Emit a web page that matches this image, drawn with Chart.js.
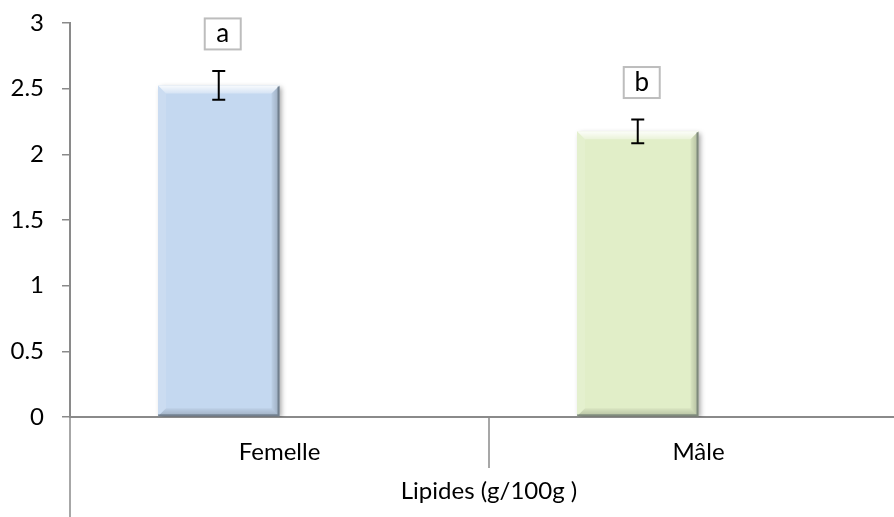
<!DOCTYPE html>
<html>
<head>
<meta charset="utf-8">
<script src="https://cdn.jsdelivr.net/npm/chart.js@4/dist/chart.umd.min.js"></script>
<style>
  html, body { margin: 0; padding: 0; background: #ffffff; overflow: hidden; }
  #wrap { width: 908px; height: 517px; }
</style>
</head>
<body>
<div id="wrap"><canvas id="chart" width="908" height="517"></canvas></div>
<script>
// Lipid content by sex (g/100g), mean ± error, with significance letters
const categories = ['Femelle', 'Mâle'];
const lipidMeans = [2.525, 2.175];
const lipidErrors = [0.11, 0.09];
const groupLetters = ['a', 'b'];
const barColors = ['#c4d8f0', '#e1eec8'];
const axisTitle = 'Lipides (g/100g )';

const FONT = 'Lato, "Open Sans", sans-serif';
const FONT_SIZE = 24;
const AXIS_GREY = '#8a8a8a';

// Soft drop shadow under the bars
const barShadow = {
  id: 'barShadow',
  beforeDatasetDraw(chart, args) {
    if (args.index !== 0) return;
    const ctx = chart.ctx;
    ctx.save();
    ctx.shadowColor = 'rgba(0,0,0,0.35)';
    ctx.shadowBlur = 5;
    ctx.shadowOffsetX = 2;
    ctx.shadowOffsetY = 2;
  },
  afterDatasetDraw(chart, args) {
    if (args.index !== 0) return;
    chart.ctx.restore();
  }
};

// Bevelled edges on each bar
const barBevel = {
  id: 'barBevel',
  afterDatasetsDraw(chart) {
    const ctx = chart.ctx;
    const meta = chart.getDatasetMeta(0);
    const b = 8;
    meta.data.forEach((el) => {
      const p = el.getProps(['x', 'y', 'base', 'width'], true);
      const x0 = p.x - p.width / 2, x1 = p.x + p.width / 2;
      const y0 = p.y, y1 = p.base;
      ctx.save();
      // top facet
      let g = ctx.createLinearGradient(0, y0, 0, y0 + b);
      g.addColorStop(0, 'rgba(255,255,255,0.9)');
      g.addColorStop(1, 'rgba(255,255,255,0.3)');
      ctx.fillStyle = g;
      ctx.beginPath();
      ctx.moveTo(x0, y0); ctx.lineTo(x1, y0); ctx.lineTo(x1 - b, y0 + b); ctx.lineTo(x0 + b, y0 + b);
      ctx.closePath(); ctx.fill();
      // left facet
      ctx.fillStyle = 'rgba(255,255,255,0.12)';
      ctx.beginPath();
      ctx.moveTo(x0, y0); ctx.lineTo(x0 + b, y0 + b); ctx.lineTo(x0 + b, y1 - b); ctx.lineTo(x0, y1);
      ctx.closePath(); ctx.fill();
      // right facet
      g = ctx.createLinearGradient(x1 - b, 0, x1, 0);
      g.addColorStop(0, 'rgba(0,0,0,0.04)');
      g.addColorStop(1, 'rgba(0,0,0,0.22)');
      ctx.fillStyle = g;
      ctx.beginPath();
      ctx.moveTo(x1, y0); ctx.lineTo(x1, y1); ctx.lineTo(x1 - b, y1 - b); ctx.lineTo(x1 - b, y0 + b);
      ctx.closePath(); ctx.fill();
      // bottom facet
      g = ctx.createLinearGradient(0, y1 - b, 0, y1);
      g.addColorStop(0, 'rgba(0,0,0,0.04)');
      g.addColorStop(1, 'rgba(0,0,0,0.2)');
      ctx.fillStyle = g;
      ctx.beginPath();
      ctx.moveTo(x0, y1); ctx.lineTo(x0 + b, y1 - b); ctx.lineTo(x1 - b, y1 - b); ctx.lineTo(x1, y1);
      ctx.closePath(); ctx.fill();
      // darker outer edge on right and bottom
      ctx.strokeStyle = 'rgba(60,70,80,0.45)';
      ctx.lineWidth = 2;
      ctx.beginPath();
      ctx.moveTo(x1 - 1, y0 + 1); ctx.lineTo(x1 - 1, y1 - 1); ctx.lineTo(x0, y1 - 1);
      ctx.stroke();
      ctx.restore();
    });
  }
};

// Error bars and significance letters in boxes
const errorAndLetters = {
  id: 'errorAndLetters',
  afterDatasetsDraw(chart) {
    const ctx = chart.ctx;
    const y = chart.scales.y;
    const meta = chart.getDatasetMeta(0);
    meta.data.forEach((el, i) => {
      const cx = el.x;
      const top = y.getPixelForValue(lipidMeans[i] + lipidErrors[i]);
      const bot = y.getPixelForValue(lipidMeans[i] - lipidErrors[i]);
      ctx.save();
      ctx.strokeStyle = '#000000';
      ctx.lineWidth = 2;
      ctx.beginPath();
      ctx.moveTo(cx, top); ctx.lineTo(cx, bot);
      ctx.moveTo(cx - 6.5, top); ctx.lineTo(cx + 6.5, top);
      ctx.moveTo(cx - 6.5, bot); ctx.lineTo(cx + 6.5, bot);
      ctx.stroke();

      const bx = cx + 4, by = top - 37;
      const w = 36, h = 31;
      ctx.fillStyle = '#ffffff';
      ctx.fillRect(bx - w / 2, by - h / 2, w, h);
      ctx.strokeStyle = '#bdbdbd';
      ctx.lineWidth = 2;
      ctx.strokeRect(bx - w / 2, by - h / 2, w, h);
      ctx.fillStyle = '#000000';
      ctx.font = '26px ' + FONT;
      ctx.textAlign = 'center';
      ctx.textBaseline = 'middle';
      ctx.fillText(groupLetters[i], bx, by);
      ctx.restore();
    });
  }
};

// Category axis extensions: outer axis line and category divider
const axisLines = {
  id: 'axisLines',
  afterDraw(chart) {
    const ctx = chart.ctx;
    const x = chart.scales.x;
    const area = chart.chartArea;
    ctx.save();
    ctx.strokeStyle = AXIS_GREY;
    ctx.lineWidth = 1.5;
    ctx.beginPath();
    ctx.moveTo(area.left, area.bottom);
    ctx.lineTo(area.left, chart.height);
    for (let i = 1; i < categories.length; i++) {
      const mid = (x.getPixelForValue(i - 1) + x.getPixelForValue(i)) / 2;
      ctx.moveTo(mid, area.bottom);
      ctx.lineTo(mid, area.bottom + 51);
    }
    ctx.stroke();
    ctx.restore();
  }
};

new Chart(document.getElementById('chart'), {
  type: 'bar',
  data: {
    labels: categories,
    datasets: [
      {
        label: 'Lipides',
        data: lipidMeans,
        backgroundColor: barColors,
        borderWidth: 0,
        categoryPercentage: 0.58,
        barPercentage: 1
      },
      {
        label: '',
        data: categories.map(() => null),
        categoryPercentage: 0.58,
        barPercentage: 1
      }
    ]
  },
  options: {
    responsive: false,
    devicePixelRatio: 1,
    animation: false,
    layout: { padding: { top: 23, right: 0, bottom: 0, left: 0 } },
    plugins: {
      legend: { display: false },
      tooltip: { enabled: false }
    },
    scales: {
      x: {
        grid: { display: true, color: 'transparent', drawTicks: false },
        border: { display: true, color: AXIS_GREY, width: 2 },
        ticks: { color: '#000000', font: { family: FONT, size: FONT_SIZE }, padding: 21, maxRotation: 0 },
        title: {
          display: true,
          text: axisTitle,
          color: '#000000',
          font: { family: FONT, size: FONT_SIZE },
          padding: { top: 0, bottom: 11 }
        },
        afterFit(scale) { scale.height = 100; scale.paddingLeft = 0; scale.paddingRight = 0; }
      },
      y: {
        min: 0,
        max: 3,
        ticks: {
          stepSize: 0.5,
          color: '#000000',
          font: { family: FONT, size: FONT_SIZE },
          padding: 18,
          callback: (v) => String(v)
        },
        grid: { drawOnChartArea: false, drawTicks: true, tickLength: 8, color: AXIS_GREY, lineWidth: 1.5 },
        border: { display: true, color: AXIS_GREY, width: 2 },
        afterFit(scale) { scale.width = 70; scale.paddingTop = 0; scale.paddingBottom = 0; }
      }
    }
  },
  plugins: [barShadow, barBevel, errorAndLetters, axisLines]
});
</script>
</body>
</html>
